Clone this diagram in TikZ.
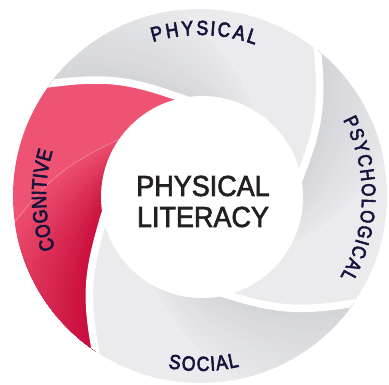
\documentclass[tikz,border=0pt]{standalone}
\usepackage{fontspec}
\usepackage{xcolor}
\usetikzlibrary{decorations.text}
\setmainfont{Liberation Sans}
\newfontfamily\titlefamily[FakeStretch=0.93,FakeBold=2]{Liberation Sans}
\newfontfamily\labelfamily[FakeStretch=0.86,FakeBold=3]{Liberation Sans}
\definecolor{bladegray}{HTML}{EBEBED}
\definecolor{shadegray}{HTML}{D3D4D8}
\definecolor{bladepink}{HTML}{EF5373}
\definecolor{shadepink}{HTML}{C80C3C}
\definecolor{labelnavy}{HTML}{14143C}
\definecolor{titlegray}{HTML}{231F20}
\newcommand{\swirl}[1]{plot[smooth,tension=0.7] coordinates {({#1-10}:88) ({#1}:100) ({#1+25}:142) ({#1+42}:187) ({#1+48}:203)}}
\newcommand{\swirlback}[1]{-- plot[smooth,tension=0.7] coordinates {({#1+48}:203) ({#1+42}:187) ({#1+25}:142) ({#1}:100) ({#1-10}:88)}}
\newcommand{\blade}[2]{\swirl{#1} arc[start angle={#1+48},end angle={#2+48},radius=203] \swirlback{#2} -- cycle}

\begin{document}
\begin{tikzpicture}[x=1pt,y=1pt,
    gap/.style={white,line width=7.5pt},
    seam/.style={white,opacity=.35,line width=.6pt},
    arclabel/.style 2 args={decorate,decoration={text effects along path,text={#1},
      text effects/.cd,text along path,fit text to path,
      characters={text=labelnavy,font=\labelfamily\fontsize{#2}{#2}\selectfont,anchor=base}}}]
  \useasboundingbox (-200,-189) rectangle (189,196);
  \begin{scope}
    \clip (0,0) circle (187);
    \foreach \a/\b/\lite/\dark in {9/101/bladegray/shadegray,101/194/bladepink/shadepink,
        194/283/bladegray/shadegray,283/369/bladegray/shadegray}{
      \fill[\lite] \blade{\a}{\b};
      \foreach \i in {0,...,23}{
        \pgfmathsetmacro\c{\a+45+\i*(\b-\a-45)/24}
        \pgfmathtruncatemacro\p{10+90*\i/23}
        \fill[\dark!\p!\lite] \blade{\c}{\b};
      }
      \draw[seam] \swirl{\a+45};
    }
    \foreach \a in {9,101,194,283}
      \draw[gap] \swirl{\a};
  \end{scope}
  \fill[white] (2,-1) circle (101);
  \node[font={\titlefamily\fontsize{29}{31}\selectfont},text=titlegray,align=center]
    (title) at (3,-5.5) {PHYSICAL\\LITERACY};
  \path[arclabel={PHYSICAL}{20.5}] (107:161) arc[start angle=107,end angle=70,radius=161];
  \path[arclabel={PSYCHOLOGICAL}{19.5}] (28:162) arc[start angle=28,end angle=-30,radius=162];
  \path[arclabel={SOCIAL}{20.5}] (-100.5:175) arc[start angle=-100.5,end angle=-77,radius=175];
  \path[arclabel={COGNITIVE}{20.5}] (200:154) arc[start angle=200,end angle=163,radius=154];
\end{tikzpicture}
\end{document}
